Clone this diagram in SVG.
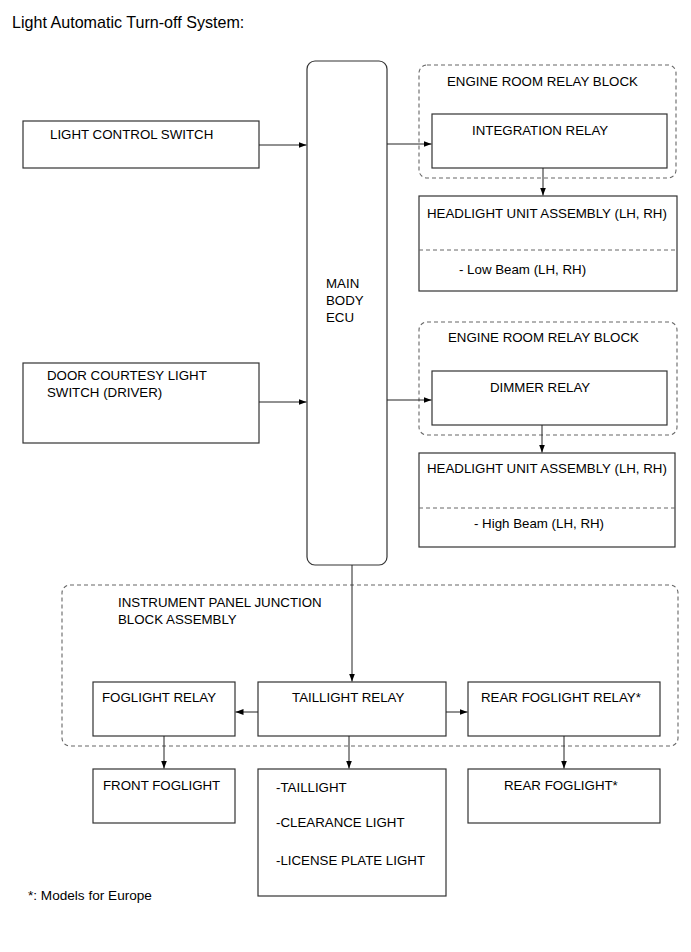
<svg xmlns="http://www.w3.org/2000/svg" width="691" height="952" viewBox="0 0 691 952">
<defs>
<marker id="ah" markerWidth="9" markerHeight="7" refX="8" refY="3" orient="auto" markerUnits="userSpaceOnUse">
<path d="M0,0 L8,3 L0,6 z" fill="#000"/>
</marker>
<style>
text{font-family:"Liberation Sans",Arial,sans-serif;font-size:13.3px;fill:#000}
.title{font-size:16.1px}
.foot{font-size:13.6px}
.box{fill:#fff;stroke:#333;stroke-width:1.2}
.grp{fill:none;stroke:#666;stroke-width:1.1;stroke-dasharray:4,3}
.sep{stroke:#666;stroke-width:1;stroke-dasharray:4,3}
.con{stroke:#222;stroke-width:1;fill:none;marker-end:url(#ah)}
</style>
</defs>
<rect width="691" height="952" fill="#fff"/>
<text class="title" x="12" y="28">Light Automatic Turn-off System:</text>

<g id="erb1"><rect class="grp" x="419" y="65" width="257" height="113" rx="8"/><text x="447" y="86">ENGINE ROOM RELAY BLOCK</text></g>
<g id="erb2"><rect class="grp" x="419" y="322" width="258" height="113" rx="8"/><text x="448" y="342">ENGINE ROOM RELAY BLOCK</text></g>
<g id="ipjb"><rect class="grp" x="62" y="585" width="616" height="161" rx="8"/><text x="118" y="607">INSTRUMENT PANEL JUNCTION</text><text x="118" y="624">BLOCK ASSEMBLY</text></g>

<g id="lcs"><rect class="box" x="23" y="121" width="236" height="47"/><text x="50" y="139">LIGHT CONTROL SWITCH</text></g>
<g id="dcls"><rect class="box" x="23" y="363" width="236" height="80"/><text x="47" y="380">DOOR COURTESY LIGHT</text><text x="47" y="397">SWITCH (DRIVER)</text></g>
<g id="ecu"><rect class="box" x="307" y="61" width="80" height="504" rx="8"/><text x="326" y="288">MAIN</text><text x="326" y="305">BODY</text><text x="326" y="322">ECU</text></g>
<g id="integ"><rect class="box" x="432" y="114" width="235" height="54"/><text x="472" y="135">INTEGRATION RELAY</text></g>
<g id="hl1"><rect class="box" x="419" y="196" width="258" height="95"/><line class="sep" x1="419" y1="250" x2="677" y2="250"/><text x="427" y="218">HEADLIGHT UNIT ASSEMBLY (LH, RH)</text><text x="459" y="274">- Low Beam (LH, RH)</text></g>
<g id="dimmer"><rect class="box" x="432" y="371" width="235" height="54"/><text x="490" y="392">DIMMER RELAY</text></g>
<g id="hl2"><rect class="box" x="419" y="453" width="256" height="94"/><line class="sep" x1="419" y1="508" x2="675" y2="508"/><text x="427" y="473">HEADLIGHT UNIT ASSEMBLY (LH, RH)</text><text x="474" y="528">- High Beam (LH, RH)</text></g>
<g id="fogrelay"><rect class="box" x="93" y="682" width="142" height="54"/><text x="102" y="702">FOGLIGHT RELAY</text></g>
<g id="tailrelay"><rect class="box" x="258" y="682" width="188" height="54"/><text x="292" y="702">TAILLIGHT RELAY</text></g>
<g id="rearfogrelay"><rect class="box" x="468" y="682" width="192" height="54"/><text x="481" y="702">REAR FOGLIGHT RELAY*</text></g>
<g id="frontfog"><rect class="box" x="93" y="769" width="142" height="54"/><text x="103" y="790">FRONT FOGLIGHT</text></g>
<g id="taillights"><rect class="box" x="258" y="769" width="188" height="127"/><text x="276" y="792">-TAILLIGHT</text><text x="276" y="827">-CLEARANCE LIGHT</text><text x="276" y="865">-LICENSE PLATE LIGHT</text></g>
<g id="rearfog"><rect class="box" x="468" y="769" width="192" height="54"/><text x="504" y="790">REAR FOGLIGHT*</text></g>

<g id="connectors">
<line class="con" x1="259" y1="145" x2="306.5" y2="145"/>
<line class="con" x1="259" y1="402" x2="306.5" y2="402"/>
<line class="con" x1="387" y1="144" x2="431.5" y2="144"/>
<line class="con" x1="387" y1="400" x2="431.5" y2="400"/>
<line class="con" x1="543" y1="168" x2="543" y2="195.5"/>
<line class="con" x1="542" y1="425" x2="542" y2="452.5"/>
<line class="con" x1="352" y1="565" x2="352" y2="681.5"/>
<line class="con" x1="258" y1="712" x2="235.5" y2="712"/>
<line class="con" x1="446" y1="712" x2="467.5" y2="712"/>
<line class="con" x1="164" y1="736" x2="164" y2="768.5"/>
<line class="con" x1="349" y1="736" x2="349" y2="768.5"/>
<line class="con" x1="564" y1="736" x2="564" y2="768.5"/>
</g>

<text class="foot" x="28" y="900">*: Models for Europe</text>
</svg>
